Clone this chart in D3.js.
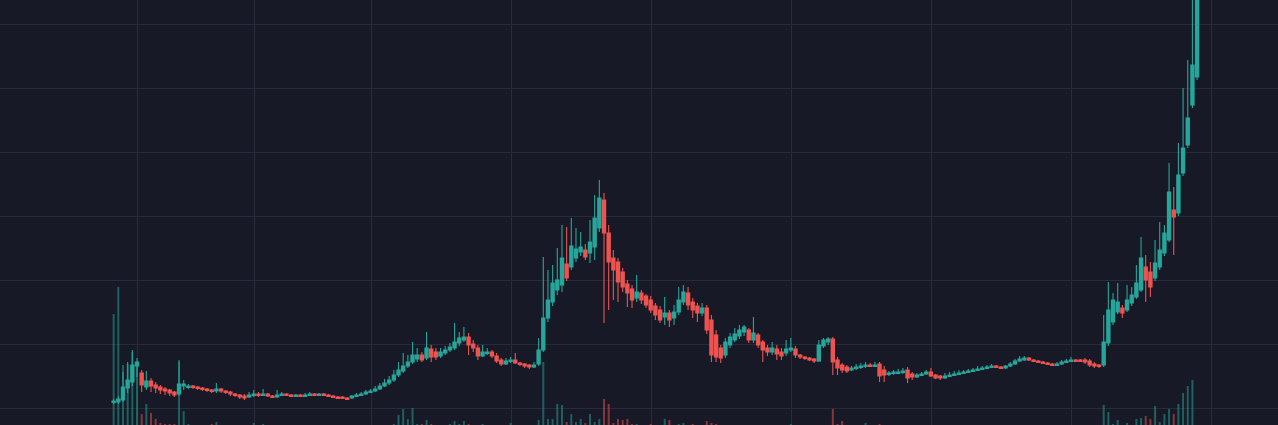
<!DOCTYPE html>
<html><head><meta charset="utf-8">
<script src="https://cdn.jsdelivr.net/npm/d3@7"></script>
<style>html,body{margin:0;padding:0;background:#171a26;overflow:hidden}</style>
</head><body><svg id="c" width="1278" height="425"></svg>
<script>
// bar index is the category; prices in chart units
const open=[6,6,8,20,26,42,35,21,27,23,21,19,18,16,14,22,21,22,21,20,19,18,17,19,17,16,14,13,12,11,13,14,13,14,12,11,13,14,13,12,13,12,13,14,13,14,13,12,11,11,10,10,12,13,14,16,17,19,22,25,28,33,37,42,46,49,53,50,59,56,52,55,58,60,65,68,71,64,60,52,55,56,52,48,44,47,48,45,44,43,41,44,58,90,106,118,123,144,141,150,156,158,155,161,180,208,175,150,146,136,124,119,110,115,112,108,102,98,91,95,90,96,106,115,106,102,95,100,88,73,60,53,63,68,72,76,78,68,73,66,60,56,59,56,55,58,59,53,51,50,49,47,62,66,69,48,43,41,38,40,41,42,43,42,44,38,34,35,35,36,38,34,31,33,34,36,33,32,30,32,33,34,35,36,37,38,39,40,41,42,41,40,42,44,47,48,50,48,47,46,45,44,43,44,46,47,48,48,48,47,44,43,43,65,86,96,100,98,105,111,118,141,136,130,141,155,168,198,195,235,263,303,331];
const close=[7,9,21,28,43,46,23,27,22,20,18,17,15,13,24,24,22,21,20,19,18,17,19,17,16,14,13,11,10,13,14,13,14,12,11,13,14,13,12,13,12,13,14,13,14,13,12,11,10,10,9,12,13,14,16,17,19,22,25,28,33,38,42,46,53,53,48,60,51,51,56,58,61,66,70,71,63,60,52,56,56,52,47,44,47,48,45,44,42,41,43,58,90,108,125,128,150,130,162,159,161,151,166,190,210,175,146,138,126,121,115,108,116,108,103,98,93,88,95,88,96,108,116,103,98,95,100,78,53,51,50,66,71,74,78,81,68,75,63,58,56,60,54,52,59,60,53,51,50,48,47,63,68,69,46,40,38,37,40,41,42,43,42,43,32,33,35,36,36,37,30,31,33,34,36,32,30,30,32,33,34,35,36,37,38,39,40,41,42,41,40,42,44,47,49,50,48,47,46,45,44,43,44,46,47,48,47,47,46,43,42,42,66,98,108,106,95,108,113,125,150,128,121,145,158,175,216,191,233,260,290,343,428];
const high=[9,12,36,46,58,50,38,37,30,26,23,21,19,17,48,28,24,23,22,21,20,19,25,20,18,17,15,14,14,16,18,16,19,15,13,18,16,15,14,14,14,15,16,15,15,15,14,13,12,12,11,13,15,16,18,19,22,25,29,32,38,46,55,53,66,60,56,76,63,60,60,62,65,85,76,81,75,68,63,63,60,58,55,50,50,51,55,46,45,44,46,70,151,138,143,160,183,181,190,180,176,164,188,213,228,215,183,158,150,140,128,123,133,118,114,112,105,102,111,98,103,121,123,121,110,105,105,103,93,78,63,70,75,80,83,83,80,91,75,68,63,66,63,60,68,70,62,54,52,51,50,68,70,71,71,51,45,43,42,44,45,46,45,46,46,42,37,38,39,40,41,36,35,36,38,40,34,33,35,36,37,38,38,39,40,42,42,43,44,43,42,43,46,49,52,52,51,49,48,47,46,45,46,48,49,51,49,49,50,49,46,44,93,126,115,125,103,123,121,143,171,153,146,168,186,183,245,221,265,320,348,408,438];
const low=[4,4,6,15,22,31,16,18,16,15,14,13,12,11,12,18,19,19,18,17,16,15,15,15,14,12,11,9,8,10,11,11,12,11,10,10,12,12,11,11,11,11,12,12,12,12,11,10,9,9,8,9,11,12,13,15,16,18,21,23,26,31,35,40,44,46,46,48,46,48,50,53,56,58,62,66,53,56,48,51,53,50,45,42,43,45,44,42,40,39,40,42,56,86,102,113,116,127,138,146,152,148,145,148,176,85,98,108,106,116,101,100,106,104,100,95,88,85,83,81,83,93,103,98,90,86,92,74,46,46,45,50,60,66,69,72,65,65,60,46,52,53,48,48,52,56,50,49,48,47,45,46,60,63,33,33,35,35,37,38,39,40,41,41,26,26,32,33,34,34,25,28,30,32,33,31,29,28,29,31,32,33,34,35,36,37,38,39,40,40,39,39,41,43,46,47,47,46,45,44,43,42,42,43,45,46,46,46,44,41,40,40,41,62,83,94,90,96,102,109,116,106,111,127,138,152,166,153,192,232,260,300,328];
const volume=[113,140,62,63,75,65,13,23,14,8,4,3,3,3,65,16,3,2,2,2,2,3,5,2,2,2,2,2,2,2,4,2,3,1,1,2,1,1,2,1,1,2,1,1,1,1,1,2,1,1,2,1,1,2,1,2,2,1,2,2,3,12,18,8,19,3,3,7,3,2,2,2,3,6,3,6,3,2,2,3,2,2,2,2,2,4,2,2,2,2,2,7,65,8,8,23,22,5,13,5,8,4,13,5,8,28,23,4,8,7,8,3,3,2,2,3,2,2,8,7,2,3,4,2,3,2,2,6,4,3,2,2,2,1,1,2,2,2,2,2,1,1,2,1,2,3,1,1,1,1,1,2,1,1,18,3,6,1,1,1,1,4,1,1,3,2,1,1,1,1,2,1,1,1,1,1,1,1,1,1,1,1,1,1,1,1,1,1,1,1,1,1,1,1,1,1,1,1,1,1,1,1,1,1,1,1,1,1,1,1,1,1,22,15,3,7,2,4,2,8,9,11,8,21,5,13,18,13,23,34,41,47,1];
const timeTicks=[5,30,55,85,115,145,175,205,235];
const priceTicks=[0,64,128,192,256,320,384];

const W=1278,H=425;
const svg=d3.select('#c');
svg.append('rect').attr('width',W).attr('height',H).attr('fill','#171a26');
const x=d3.scaleLinear().domain([0,235]).range([113.65,1211.1]);
const y=d3.scaleLinear().domain([0,408]).range([408,0]);
const yv=d3.scaleLinear().domain([0,140]).range([427,287]);

const grid=svg.append('g');
grid.selectAll('line.h').data(priceTicks).join('line').attr('class','h')
  .attr('x1',0).attr('x2',W).attr('y1',d=>Math.round(y(d))+0.5).attr('y2',d=>Math.round(y(d))+0.5)
  .attr('stroke','#282c3a').attr('stroke-width',1);
grid.selectAll('line.v').data(timeTicks).join('line').attr('class','v')
  .attr('y1',0).attr('y2',H).attr('x1',d=>Math.round(x(d))+0.5).attr('x2',d=>Math.round(x(d))+0.5)
  .attr('stroke','#282c3a').attr('stroke-width',1);

const idx=d3.range(open.length);
const up='#26a69a',dn='#ef5350';
const isUp=i=>close[i]>=open[i];

svg.append('g').selectAll('rect').data(idx).join('rect')
  .attr('x',i=>x(i)-1).attr('width',2)
  .attr('y',i=>yv(volume[i])).attr('height',i=>yv(0)-yv(volume[i]))
  .attr('fill',i=>isUp(i)?'rgba(38,166,154,0.5)':'rgba(239,83,80,0.5)');

const c=svg.append('g');
c.selectAll('line').data(idx).join('line')
  .attr('x1',i=>x(i)).attr('x2',i=>x(i))
  .attr('y1',i=>y(high[i])).attr('y2',i=>y(low[i]))
  .attr('stroke',i=>isUp(i)?up:dn).attr('stroke-width',1.1);
const bw=4.4;
c.selectAll('rect').data(idx).join('rect')
  .attr('x',i=>x(i)-bw/2).attr('width',bw)
  .attr('y',i=>y(Math.max(open[i],close[i]))-0.5)
  .attr('height',i=>Math.max(2.5,Math.abs(y(open[i])-y(close[i]))+1))
  .attr('fill',i=>isUp(i)?up:dn);
</script></body></html>
